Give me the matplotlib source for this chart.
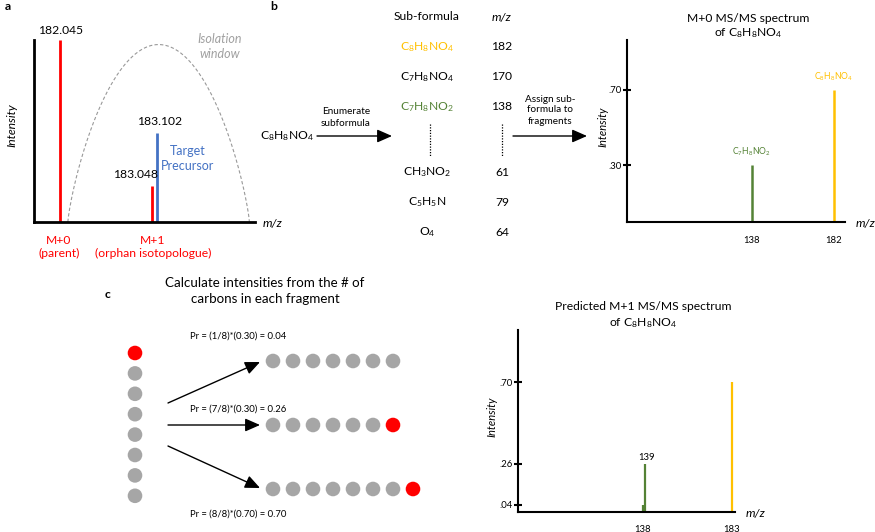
import matplotlib
matplotlib.use('Agg')
import matplotlib.pyplot as plt
import numpy as np
from matplotlib.patches import Circle

plt.rcParams['font.family'] = ['Lato', 'DejaVu Sans']
plt.rcParams['mathtext.default'] = 'regular'

# ---------------- data ----------------
RED, BLUE, ORANGE, GREEN, GRAY = '#FF0000', '#4472C4', '#FFC000', '#548235', '#A6A6A6'

# panel a: MS1 peaks
a_mz = [182.045, 183.048, 183.102]
a_int = [1.0, 0.20, 0.49]
a_colors = [RED, RED, BLUE]
a_labels = ['182.045', '183.048', '183.102']
a_window_center = 183.12
a_window_halfwidth = 0.99

# panel b: enumerated sub-formulas
precursor = 'C_8H_8NO_4'
sub_formulas = ['C_8H_8NO_4', 'C_7H_8NO_4', 'C_7H_8NO_2', 'CH_3NO_2', 'C_5H_5N', 'O_4']
sub_mz = [182, 170, 138, 61, 79, 64]
sub_colors = [ORANGE, 'black', GREEN, 'black', 'black', 'black']

# panel b: M+0 MS/MS spectrum
b_mz = [138, 182]
b_int = [0.30, 0.70]
b_labels = ['C_7H_8NO_2', 'C_8H_8NO_4']
b_colors = [GREEN, ORANGE]
b_yticks = [0.30, 0.70]
b_yticklabels = ['.30', '.70']

# panel c: carbon labelling
n_carbons_precursor = 8
frag_carbons = [7, 7, 8]
frag_labeled = [False, True, True]
pr_texts = ['Pr = (1/8)*(0.30) = 0.04', 'Pr = (7/8)*(0.30) = 0.26', 'Pr = (8/8)*(0.70) = 0.70']

# panel c: predicted M+1 MS/MS spectrum
c_mz = [138, 139, 183]
c_int = [0.04, 0.26, 0.70]
c_colors = [GREEN, GREEN, ORANGE]
c_xticks = [138, 183]
c_yticks = [0.04, 0.26, 0.70]
c_yticklabels = ['.04', '.26', '.70']


def F(s):
    return r'$\mathregular{' + s + '}$'


W, H = 875, 532
fig = plt.figure(figsize=(8.75, 5.32), dpi=100)


def add_ax(left, right, top, bottom):
    return fig.add_axes([left / W, 1 - bottom / H, (right - left) / W, (bottom - top) / H])


def style_spines(ax, lw):
    for s in ['top', 'right']:
        ax.spines[s].set_visible(False)
    for s in ['left', 'bottom']:
        ax.spines[s].set_linewidth(lw)
    ax.patch.set_alpha(0)


# ---------------- panel a ----------------
axa = add_ax(34, 255, 40, 222)
axa.set_xlim(181.761, 184.171)
axa.set_ylim(0, 1.0)
axa.vlines(a_mz, 0, a_int, colors=a_colors, lw=2.0, clip_on=False)
u = np.linspace(-1, 1, 300)
axa.plot(a_window_center + a_window_halfwidth * u, 0.975 * (1 - u ** 2) ** 0.8,
         ls=(0, (3, 2)), color='#999999', lw=0.8, clip_on=False)
style_spines(axa, 2.0)
axa.set_xticks([]); axa.set_yticks([])
axa.annotate(a_labels[0], xy=(a_mz[0], a_int[0]), xytext=(0, 3), textcoords='offset points',
             ha='center', va='bottom', fontsize=8.7)
axa.annotate(a_labels[1], xy=(a_mz[1], a_int[1]), xytext=(4, 4), textcoords='offset points',
             ha='right', va='bottom', fontsize=8.7)
axa.annotate(a_labels[2], xy=(a_mz[2], a_int[2]), xytext=(2, 4), textcoords='offset points',
             ha='center', va='bottom', fontsize=8.7)

# ---------------- panel b spectrum ----------------
axb = add_ax(627, 845, 40, 222)
axb.set_xlim(71, 188)
axb.set_ylim(0, 0.965)
axb.vlines(b_mz, 0, b_int, colors=b_colors, lw=1.8)
for m, i, l, c in zip(b_mz, b_int, b_labels, b_colors):
    axb.annotate(F(l), xy=(m, i), xytext=(0, 5), textcoords='offset points',
                 ha='center', va='bottom', fontsize=6.2, color=c)
style_spines(axb, 1.5)
axb.set_yticks(b_yticks)
axb.set_yticklabels(b_yticklabels, fontsize=6.8)
axb.tick_params(axis='y', direction='inout', length=6, width=1.5, pad=1)
axb.set_xticks(b_mz)
axb.set_xticklabels([str(m) for m in b_mz], fontsize=6.8)
axb.tick_params(axis='x', length=0, pad=10)

# ---------------- panel c spectrum ----------------
axc = add_ax(518, 735, 330, 512)
axc.set_xlim(74.8, 184.5)
axc.set_ylim(0, 0.98)
axc.vlines(c_mz, 0, c_int, colors=c_colors, lw=1.6)
axc.annotate(str(c_mz[1]), xy=(c_mz[1], c_int[1]), xytext=(1, 1), textcoords='offset points',
             ha='center', va='bottom', fontsize=6.8)
style_spines(axc, 1.5)
axc.set_yticks(c_yticks)
axc.set_yticklabels(c_yticklabels, fontsize=6.8)
axc.tick_params(axis='y', direction='inout', length=6, width=1.5, pad=1)
axc.set_xticks(c_xticks)
axc.set_xticklabels([str(m) for m in c_xticks], fontsize=6.8)
axc.tick_params(axis='x', length=0, pad=9)

# ---------------- overlay for schematic text ----------------
ov = fig.add_axes([0, 0, 1, 1])
ov.set_xlim(0, W)
ov.set_ylim(H, 0)
ov.axis('off')


def T(x, y, s, fs=8.7, **kw):
    kw.setdefault('ha', 'center')
    kw.setdefault('va', 'center')
    ov.text(x, y, s, fontsize=fs, **kw)


def arrow(x0, y0, x1, y1):
    ov.annotate('', xy=(x1, y1), xytext=(x0, y0),
                arrowprops=dict(arrowstyle='-|>,head_length=0.5,head_width=0.22',
                                color='black', lw=1.0, mutation_scale=18,
                                shrinkA=0, shrinkB=0))


# panel a text
T(5, 6, 'a', weight='bold', ha='left')
T(220, 39, 'Isolation', fs=9, color='#A0A0A0', style='italic')
T(220, 54, 'window', fs=9, color='#A0A0A0', style='italic')
T(188, 151, 'Target', fs=9, color=BLUE)
T(188, 166, 'Precursor', fs=9, color=BLUE)
T(12, 125, 'Intensity', rotation=90, style='italic')
T(273, 223, 'm/z', style='italic')
T(59, 240, 'M+0', color=RED)
T(59, 253, '(parent)', color=RED)
T(153, 240, 'M+1', color=RED)
T(153, 253, '(orphan isotopologue)', color=RED)

# panel b text
T(270, 6, 'b', weight='bold', ha='left')
T(427, 17, 'Sub-formula')
T(502, 17, 'm/z', style='italic')
row_y = [47, 77, 107, 172, 202, 232]
for y, f, m, c in zip(row_y, sub_formulas, sub_mz, sub_colors):
    T(427, y, F(f), color=c)
    T(502, y, str(m))
ov.plot([430, 430], [124, 156], ls=(0, (1, 1.2)), color='black', lw=0.9)
ov.plot([502, 502], [124, 156], ls=(0, (1, 1.2)), color='black', lw=0.9)
T(287, 136, F(precursor))
arrow(317, 136, 392, 136)
T(346, 111, 'Enumerate', fs=7.2)
T(346, 123, 'subformula', fs=7.2)
T(550, 99, 'Assign sub-', fs=7.2)
T(550, 110, 'formula to', fs=7.2)
T(550, 121, 'fragments', fs=7.2)
arrow(513, 136, 587, 136)
T(748, 18, 'M+0 MS/MS spectrum')
T(748, 33, 'of ' + F(precursor))
T(603, 127, 'Intensity', fs=8, rotation=90, style='italic')
T(866, 223, 'm/z', style='italic')

# panel c text
T(105, 295, 'c', weight='bold', ha='left')
T(265, 283, 'Calculate intensities from the # of', fs=9.6)
T(265, 299, 'carbons in each fragment', fs=9.6)
step = 20.4
r = 7.3
for k in range(n_carbons_precursor):
    ov.add_patch(Circle((135, 353 + k * step), r, color=RED if k == 0 else GRAY, lw=0))
row_yc = [361, 425, 489]
for y, n, lab in zip(row_yc, frag_carbons, frag_labeled):
    for k in range(n):
        col = RED if (lab and k == n - 1) else GRAY
        ov.add_patch(Circle((273 + k * 20.0, y), r, color=col, lw=0))
arrow(168, 403, 260, 362)
arrow(168, 425, 260, 425)
arrow(168, 446, 260, 488)
for y, s in zip([336, 409, 514], pr_texts):
    T(238, y, s, fs=6.8)

T(643, 307, 'Predicted M+1 MS/MS spectrum')
T(643, 323, 'of ' + F(precursor))
T(492, 417, 'Intensity', fs=8, rotation=90, style='italic')
T(756, 514, 'm/z', style='italic')

fig.savefig('out.png', dpi=100)
